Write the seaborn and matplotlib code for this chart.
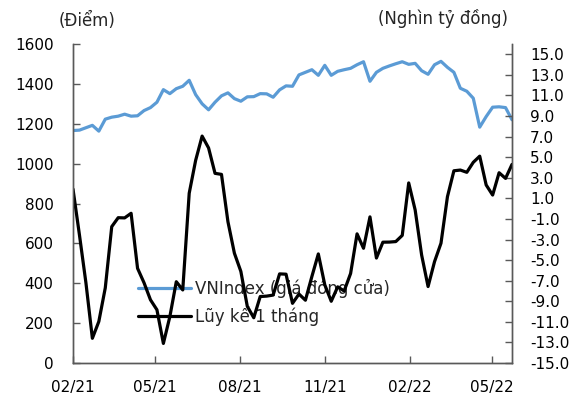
import matplotlib
matplotlib.use("Agg")
import matplotlib.pyplot as plt
import matplotlib.dates as mdates
from matplotlib.ticker import FormatStrFormatter
import seaborn as sns
import pandas as pd
import numpy as np

# ---- data (weekly) ----
start_date = "2021-02-01"
n_weeks = 69
vnindex = [1166, 1168, 1180, 1192, 1163, 1223, 1233, 1238, 1248, 1238,
           1240, 1266, 1281, 1308, 1371, 1351, 1376, 1388, 1418, 1346,
           1300, 1270, 1308, 1340, 1355, 1326, 1313, 1335, 1336, 1351,
           1350, 1333, 1370, 1390, 1388, 1445, 1458, 1471, 1443, 1493,
           1443, 1463, 1471, 1478, 1496, 1511, 1413, 1458, 1478, 1490,
           1501, 1511, 1498, 1503, 1466, 1448, 1496, 1513, 1483, 1458,
           1378, 1363, 1328, 1183, 1236, 1283, 1285, 1281, 1220]
luy_ke = [1.9, -2.56, -7.2, -12.6, -10.97, -7.7, -1.75, -0.88, -0.9, -0.45,
          -5.8, -7.2, -8.86, -9.83, -13.1, -10.5, -7.1, -7.9, 1.5, 4.7,
          7.05, 5.9, 3.43, 3.33, -1.27, -4.33, -6.1, -9.5, -10.6, -8.54,
          -8.5, -8.4, -6.34, -6.37, -9.2, -8.3, -8.9, -6.6, -4.4, -7.4,
          -9.0, -7.6, -8.0, -6.3, -2.45, -3.85, -0.8, -4.8, -3.26, -3.25,
          -3.2, -2.6, 2.5, -0.13, -4.5, -7.57, -5.15, -3.36, 1.16, 3.68,
          3.75, 3.53, 4.5, 5.1, 2.3, 1.32, 3.49, 2.94, 4.3]
x_ticks = ["2021-02-01", "2021-05-01", "2021-08-01", "2021-11-01",
           "2022-02-01", "2022-05-01"]
left_ticks = list(range(0, 1601, 200))
right_ticks = list(range(-15, 16, 2))
label_vn = "VNIndex (giá đóng cửa)"
label_lk = "Lũy kế 1 tháng"
left_title = "(Điểm)"
right_title = "(Nghìn tỷ đồng)"

dates = pd.date_range(start_date, periods=n_weeks, freq="7D")
df = pd.DataFrame({"date": dates, "vn": vnindex, "lk": luy_ke})

sns.set_style("white")
plt.rcParams["font.family"] = ["DejaVu Sans"]

fig = plt.figure(figsize=(5.82, 4.01), dpi=100)
ax = fig.add_axes([73/582, 1-363/401, (512-73)/582, (363-44)/401])
ax2 = ax.twinx()

blue = "#5B9BD5"
sns.lineplot(data=df, x="date", y="vn", ax=ax, color=blue, linewidth=2.3,
             label=label_vn, legend=False)
sns.lineplot(data=df, x="date", y="lk", ax=ax2, color="black", linewidth=2.3,
             label=label_lk, legend=False)

ax.set_xlim(dates[0], dates[-1])
ax.set_ylim(0, 1600)
ax.set_yticks(left_ticks)
ax2.set_ylim(-15, 16)
ax2.set_yticks(right_ticks)
ax2.yaxis.set_major_formatter(FormatStrFormatter("%.1f"))
ax.set_xticks(pd.to_datetime(x_ticks))
ax.xaxis.set_major_formatter(mdates.DateFormatter("%m/%y"))

for a in (ax, ax2):
    a.set_xlabel("")
    a.set_ylabel("")
    a.grid(False)
    for s in a.spines.values():
        s.set_color("#595959")
        s.set_linewidth(1.0)
    a.spines["top"].set_visible(False)

ax.tick_params(axis="both", direction="in", length=5, width=1, color="#595959",
               labelsize=11, labelcolor="black")
ax.tick_params(axis="y", pad=14, left=True)
ax.tick_params(axis="x", pad=12, bottom=True)
ax2.tick_params(axis="y", direction="in", length=5, width=1, color="#595959",
                labelsize=11, labelcolor="black", pad=13, right=True)

h1, l1 = ax.get_legend_handles_labels()
h2, l2 = ax2.get_legend_handles_labels()
leg = ax.legend(h1 + h2, l1 + l2, loc="upper left",
                bbox_to_anchor=(0.147, 0.265), frameon=False, fontsize=12,
                handlelength=3.2, handletextpad=0.25, labelspacing=0.55,
                borderpad=0, borderaxespad=0)

fig.text(87.5/582, 1-21/401, left_title, ha="center", va="center", fontsize=12)
fig.text(443/582, 1-19/401, right_title, ha="center", va="center", fontsize=12)

fig.savefig("out.png", dpi=100)
